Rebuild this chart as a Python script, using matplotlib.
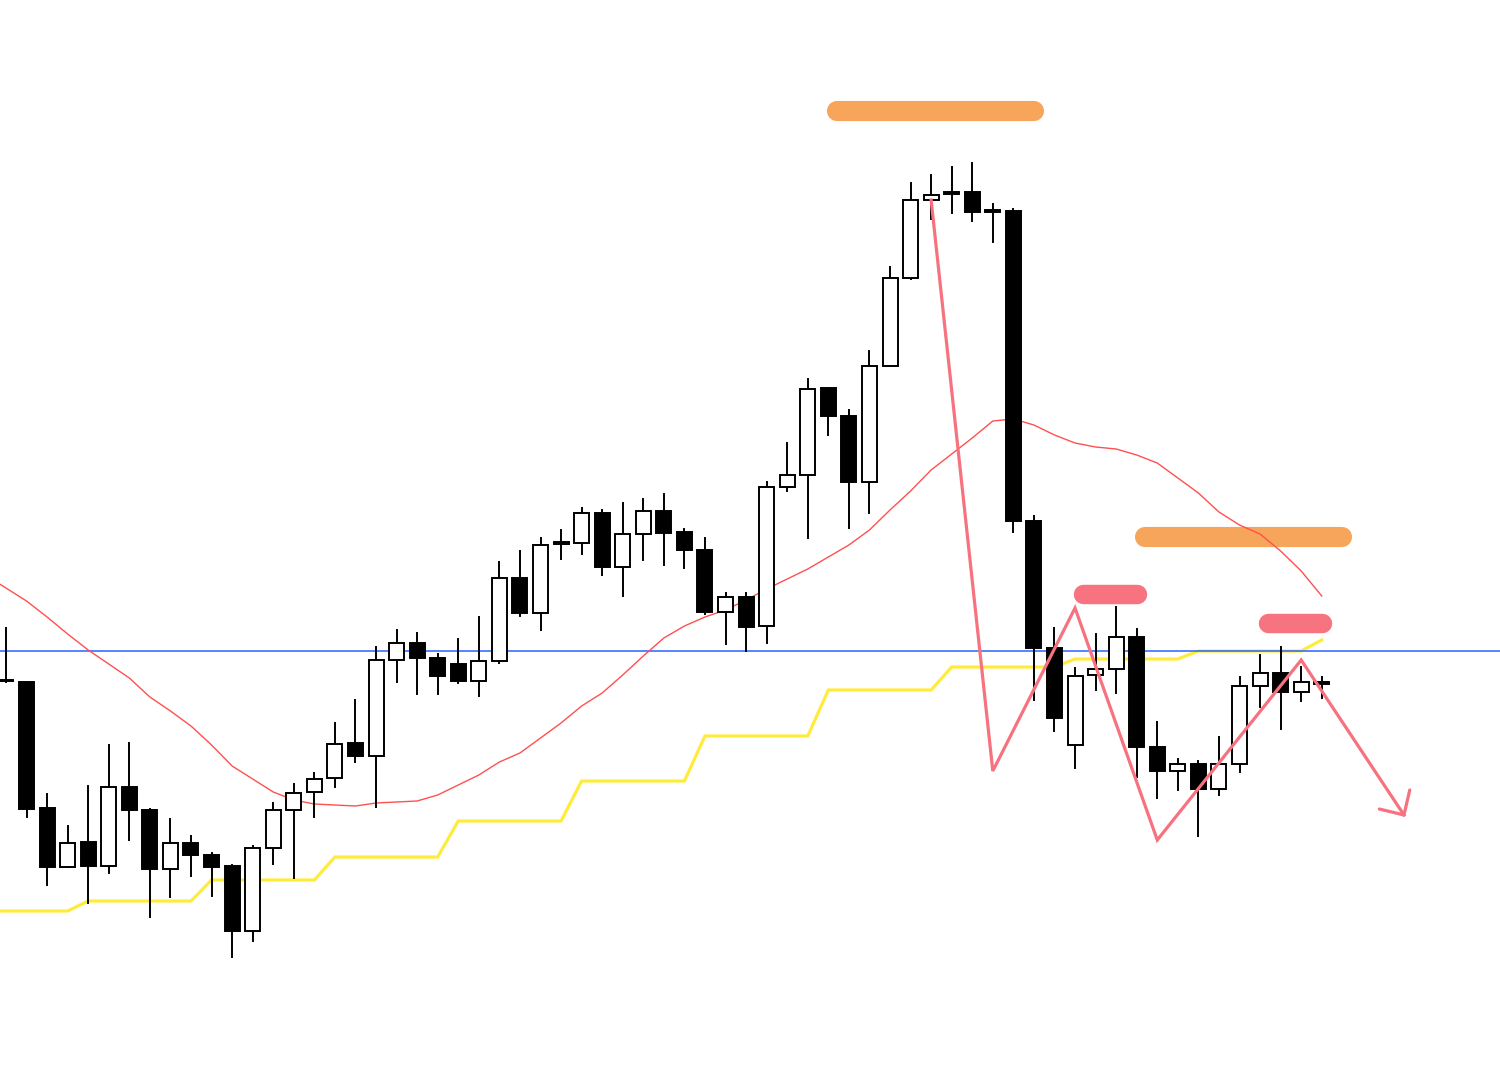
"""
candlestick chart with moving average, baseline, zigzag and zone markers
"""
import numpy as np
import matplotlib.pyplot as plt
from matplotlib.patches import Rectangle

# candle data (open, high, low, close), one entry per bar
opens = [388, 386, 260, 201, 226, 202, 281, 258, 199, 225, 213, 202, 137, 220, 258, 276, 290,
         325, 312, 408, 425, 410, 404, 387, 407, 490, 455, 526, 525, 555, 501, 534, 557, 536,
         518, 456, 471, 442, 581, 593, 680, 652, 586, 702, 790, 868, 876, 876, 858, 857, 547,
         420, 323, 393, 399, 431, 321, 297, 304, 279, 304, 382, 395, 376, 386]
highs = [440, 386, 274, 242, 282, 323, 325, 259, 249, 232, 215, 203, 222, 265, 284, 295, 345,
         368, 421, 438, 435, 414, 429, 451, 506, 517, 530, 538, 560, 558, 565, 569, 574, 539,
         530, 475, 475, 586, 625, 689, 680, 658, 717, 801, 885, 893, 901, 905, 864, 859, 552,
         440, 400, 434, 461, 439, 346, 309, 307, 331, 391, 413, 421, 401, 391]
lows = [386, 251, 183, 201, 165, 195, 228, 151, 171, 192, 172, 111, 127, 204, 190, 251, 281,
        306, 261, 386, 374, 374, 385, 372, 405, 452, 438, 509, 514, 493, 472, 508, 503, 500,
        454, 424, 417, 425, 577, 530, 633, 540, 555, 702, 789, 849, 855, 847, 826, 536, 368,
        337, 300, 378, 375, 291, 270, 278, 232, 273, 296, 361, 339, 367, 370]
closes = [387, 259, 201, 225, 202, 281, 258, 199, 225, 213, 201, 137, 220, 258, 275, 289, 324,
          312, 408, 425, 410, 392, 387, 407, 490, 455, 523, 524, 555, 501, 534, 557, 535, 518,
          456, 471, 441, 581, 593, 679, 652, 586, 702, 790, 868, 873, 874, 856, 856, 547, 420,
          350, 392, 399, 431, 321, 297, 304, 279, 304, 382, 395, 376, 386, 384]

# moving average and baseline, starting one bar before the first visible candle
ma = [493, 480, 467, 451, 434, 418, 404, 390, 371, 357, 342, 323, 302, 289, 276, 268, 264,
      263, 262, 265, 266, 267, 273, 283, 293, 306, 315, 330, 345, 362, 375, 393, 412, 430,
      442, 451, 458, 468, 479, 489, 499, 511, 523, 538, 558, 577, 598, 614, 630, 647, 649,
      643, 633, 625, 621, 619, 613, 605, 590, 575, 556, 543, 534, 517, 497, 472]
base = [157] * 5 + [167] * 6 + [188] * 6 + [211] * 6 + [247] * 6 + [287] * 6 + \
       [332] * 6 + [378] * 6 + [401] * 6 + [409] * 6 + [417] * 6 + [428]

level = 417

# zigzag swing points (bar index, price)
zz_idx = [45, 48, 52, 56, 63, 68]
zz_px = [868, 297, 460, 228, 408, 253]

# marker zones (start bar, end bar, price)
orange_zones = [(40.4, 50.0, 957), (55.4, 65.0, 531)]
pink_zones = [(52.4, 55.0, 474), (61.4, 64.0, 445)]

fig = plt.figure(figsize=(15, 10.68), dpi=100)
ax = fig.add_axes([0, 0, 1, 1])
ax.set_xlim(-0.29, 72.67)
ax.set_ylim(0, 1068)
ax.axis("off")

x_line = np.arange(-1, len(opens))
ax.plot(x_line, base, color="#ffeb3b", lw=2.3, zorder=2, solid_joinstyle="miter")
ax.axhline(level, color="#2962ff", lw=1.1, zorder=2)

for a, b, y in orange_zones:
    ax.plot([a, b], [y, y], color="#f7a55a", lw=14.5, solid_capstyle="round", zorder=2)
for a, b, y in pink_zones:
    ax.plot([a, b], [y, y], color="#f7737f", lw=14, solid_capstyle="round", zorder=2)

ax.plot(x_line, ma, color="#ff5050", lw=1.0, zorder=3)

w = 0.73
for i in range(len(opens)):
    o, h, l, c = opens[i], highs[i], lows[i], closes[i]
    ax.plot([i, i], [l, h], color="black", lw=1.4, zorder=4)
    bottom = min(o, c)
    height = max(abs(c - o), 1.5)
    face = "white" if c > o else "black"
    ax.add_patch(Rectangle((i - w / 2, bottom), w, height, facecolor=face,
                           edgecolor="black", lw=1.4, zorder=5))

ax.plot(zz_idx, zz_px, color="#f7727f", lw=2.3, zorder=6, solid_joinstyle="miter")
# arrow head at the last point
tip_x, tip_y = zz_idx[-1], zz_px[-1]
ax.plot([tip_x - 1.2, tip_x, tip_x + 0.28], [tip_y + 6, tip_y, tip_y + 25],
        color="#f7727f", lw=2.3, zorder=6, solid_capstyle="round")

plt.savefig("out.png", dpi=100)
